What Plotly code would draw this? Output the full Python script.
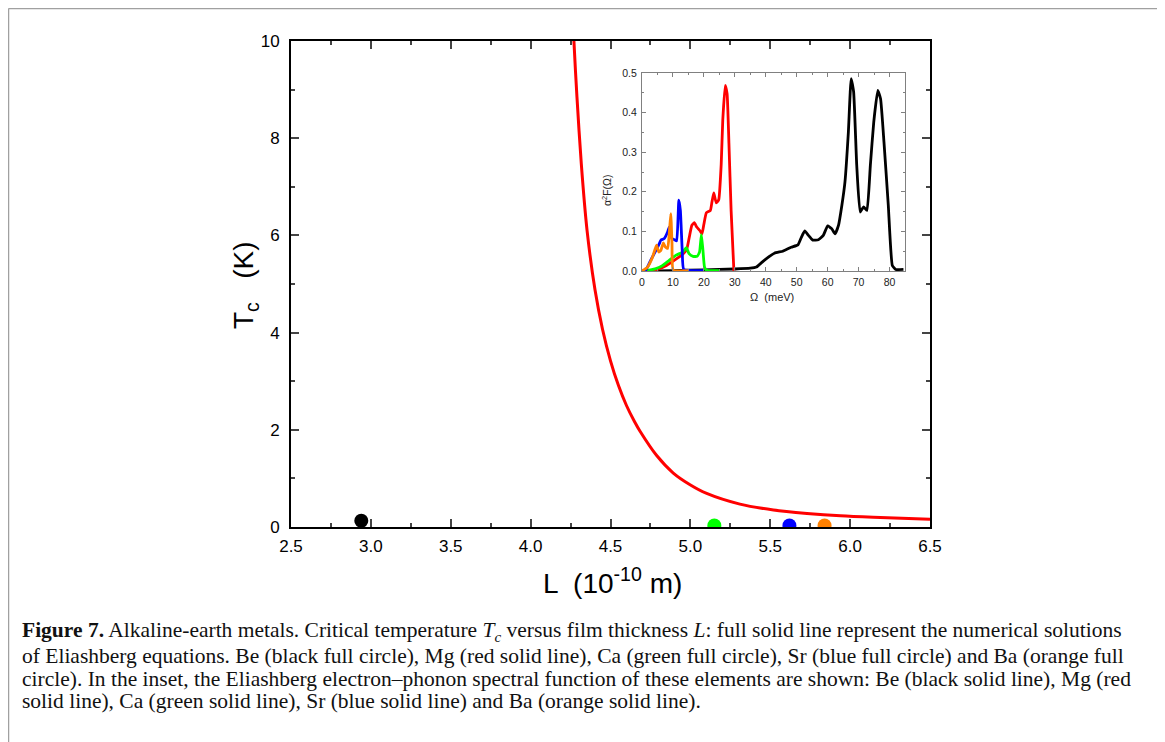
import plotly.graph_objects as go

# ---------------- data ----------------
# Main panel: Tc versus film thickness L (Mg, red solid line)
L_mg = [4.262, 4.271, 4.290, 4.317, 4.353, 4.403, 4.45, 4.50, 4.55, 4.60, 4.65, 4.685, 4.789, 4.893,
        4.998, 5.102, 5.31, 5.52, 5.73, 5.94, 6.145, 6.5]
Tc_mg = [10.8, 10.0, 8.85, 7.48, 6.11, 4.88, 4.07, 3.42, 2.91, 2.50, 2.17, 1.97, 1.47, 1.11,
         0.87, 0.69, 0.47, 0.35, 0.28, 0.23, 0.20, 0.16]

# Full circles
pt_names = ["Be", "Ca", "Sr", "Ba"]
pt_L = [2.94, 5.15, 5.62, 5.84]
pt_Tc = [0.13, 0.03, 0.03, 0.03]
pt_colors = ["#000000", "#00ff00", "#0000ff", "#ff8000"]

# Inset: Eliashberg spectral functions alpha^2F(Omega)
om_be = [5, 10, 20, 30, 35, 37, 39.5, 42.8, 45.5, 48.2, 50.4, 51.5, 52.6, 53.8, 55.2, 57,
         58.6, 60.0, 61.3, 62.4, 63.5, 64.6, 65.6, 66.7, 67.6, 68.4, 69.4, 70.5, 71.6,
         72.7, 73.8, 74.9, 76.2, 77.1, 78.2, 79.6, 80.9, 82, 84.5]
a2f_be = [0, 0.001, 0.003, 0.005, 0.007, 0.010, 0.027, 0.045, 0.050, 0.060, 0.066, 0.085,
          0.101, 0.090, 0.078, 0.079, 0.090, 0.114, 0.107, 0.094, 0.115, 0.166, 0.225,
          0.351, 0.486, 0.452, 0.267, 0.149, 0.162, 0.153, 0.267, 0.376, 0.456, 0.435,
          0.326, 0.166, 0.014, 0.004, 0.004]

om_mg = [3, 5, 7.9, 11.2, 13.4, 14.5, 15.3, 16.1, 16.9, 17.7, 18.8, 19.4, 20.0, 20.8,
         22.1, 22.6, 23.2, 24.0, 24.8, 25.6, 26.1, 26.9, 27.5, 28.1, 28.8, 29.7]
a2f_mg = [0, 0.004, 0.014, 0.031, 0.044, 0.056, 0.086, 0.115, 0.122, 0.111, 0.101, 0.094,
          0.118, 0.147, 0.153, 0.174, 0.197, 0.172, 0.18, 0.27, 0.38, 0.469, 0.448, 0.322,
          0.153, 0.0]

om_ca = [1, 2.3, 4.5, 6.7, 8.8, 11.0, 13.2, 14.3, 15.2, 16.5, 17.8, 18.6, 19.2, 19.7,
         20.2, 20.8, 25]
a2f_ca = [0, 0.002, 0.006, 0.014, 0.027, 0.040, 0.048, 0.059, 0.044, 0.037, 0.037, 0.048,
          0.092, 0.052, 0.010, 0.002, 0.001]

om_sr = [0, 1.2, 2.8, 4.5, 5.6, 6.1, 7.2, 8.3, 8.8, 9.7, 10.5, 11.2, 11.9, 12.4, 13.0,
         13.5, 20]
a2f_sr = [0, 0.002, 0.027, 0.052, 0.069, 0.078, 0.082, 0.099, 0.111, 0.082, 0.079, 0.076,
          0.179, 0.153, 0.052, 0.004, 0.001]

om_ba = [0, 1.8, 3.4, 4.7, 5.4, 6.1, 6.9, 7.5, 8.3, 8.8, 9.3, 9.7, 10.1, 15]
a2f_ba = [0, 0.01, 0.035, 0.065, 0.048, 0.052, 0.071, 0.061, 0.057, 0.094, 0.145, 0.069,
          0.002, 0.001]

caption_lines = [
    "<b>Figure 7.</b> Alkaline-earth metals. Critical temperature <i>T<sub>c</sub></i> versus film thickness <i>L</i>: full solid line represent the numerical solutions",
    "of Eliashberg equations. Be (black full circle), Mg (red solid line), Ca (green full circle), Sr (blue full circle) and Ba (orange full",
    "circle). In the inset, the Eliashberg electron\u2013phonon spectral function of these elements are shown: Be (black solid line), Mg (red",
    "solid line), Ca (green solid line), Sr (blue solid line) and Ba (orange solid line).",
]

# ---------------- figure ----------------
# the page puts the figure 8 px from the top-left corner; positions below are screen pixels
OFF = 8
W, H = 1157, 734
def px(x):
    return max(x - OFF, 0.5) / W
def py(y):
    return 1 - max(y - OFF, 0.5) / H

fig = go.Figure()

fig.add_trace(go.Scatter(x=L_mg, y=Tc_mg, mode="lines", line=dict(color="#ff0000", width=3, shape="spline", smoothing=0.8),
                         xaxis="x", yaxis="y", showlegend=False, name="Mg"))
for n, xv, yv, c in zip(pt_names, pt_L, pt_Tc, pt_colors):
    fig.add_trace(go.Scatter(x=[xv], y=[yv], mode="markers", marker=dict(color=c, size=14, line=dict(width=0)),
                             xaxis="x", yaxis="y", showlegend=False, name=n, cliponaxis=True))

inset = [(om_be, a2f_be, "#000000", "Be"), (om_mg, a2f_mg, "#ff0000", "Mg"),
         (om_ca, a2f_ca, "#00ff00", "Ca"), (om_sr, a2f_sr, "#0000ff", "Sr"),
         (om_ba, a2f_ba, "#ff8000", "Ba")]
for xs, ys, c, n in inset:
    fig.add_trace(go.Scatter(x=xs, y=ys, mode="lines", line=dict(color=c, width=2.8, shape="spline", smoothing=0.4),
                             xaxis="x2", yaxis="y2", showlegend=False, name=n))

font_sans = "Liberation Sans, Arial, sans-serif"

fig.update_layout(
    template="none",
    width=W, height=H,
    margin=dict(l=0, r=0, t=0, b=0, pad=0, autoexpand=False),
    paper_bgcolor="white", plot_bgcolor="rgba(0,0,0,0)",
    font=dict(family=font_sans, color="black"),
    xaxis=dict(domain=[px(291), px(930)], range=[2.5, 6.5], anchor="y", automargin=False,
               tick0=2.5, dtick=0.5, tickformat=".1f", ticks="inside", ticklen=8, tickwidth=1.5,
               showline=True, linecolor="black", linewidth=2, mirror="ticks",
               showgrid=False, zeroline=False, tickfont=dict(size=17), ticklabelstandoff=3,
               minor=dict(ticks="inside", ticklen=4, tickwidth=1.5, dtick=0.25, tick0=2.5, showgrid=False)),
    yaxis=dict(domain=[py(527), py(41)], range=[0, 10], anchor="x", automargin=False,
               tick0=0, dtick=2, ticks="inside", ticklen=8, tickwidth=1.5,
               showline=True, linecolor="black", linewidth=2, mirror="ticks",
               showgrid=False, zeroline=False, tickfont=dict(size=17), ticklabelstandoff=6,
               minor=dict(ticks="inside", ticklen=4, tickwidth=1.5, dtick=1, tick0=0, showgrid=False)),
    xaxis2=dict(domain=[px(642), px(905)], range=[0, 85], anchor="y2", automargin=False,
                tick0=0, dtick=10, ticks="inside", ticklen=4, tickwidth=1,
                showline=True, linecolor="#808080", linewidth=1, mirror="ticks", tickcolor="#808080",
                showgrid=False, zeroline=False, tickfont=dict(size=10.5, color="#222"), ticklabelstandoff=1,
                minor=dict(ticks="inside", ticklen=2, tickwidth=1, dtick=5, tick0=0, tickcolor="#808080", showgrid=False)),
    yaxis2=dict(domain=[py(271), py(73)], range=[0, 0.5], anchor="x2", automargin=False,
                tick0=0, dtick=0.1, tickformat=".1f", ticks="inside", ticklen=4, tickwidth=1,
                showline=True, linecolor="#808080", linewidth=1, mirror="ticks", tickcolor="#808080",
                showgrid=False, zeroline=False, tickfont=dict(size=10.5, color="#222"), ticklabelstandoff=2,
                minor=dict(ticks="inside", ticklen=2, tickwidth=1, dtick=0.05, tick0=0, tickcolor="#808080", showgrid=False)),
)

annotations = [
    dict(text="T<sub>c</sub>   (K)", x=px(245), y=py(285), xref="paper", yref="paper",
         textangle=-90, showarrow=False, font=dict(size=28, family=font_sans), xanchor="center", yanchor="middle"),
    dict(text="L  (10<sup>-10</sup> m)", x=px(612), y=py(581), xref="paper", yref="paper",
         showarrow=False, font=dict(size=28, family=font_sans), xanchor="center", yanchor="middle"),
    dict(text="\u03b1<sup>2</sup>F(\u03a9)", x=px(607), y=py(191), xref="paper", yref="paper",
         textangle=-90, showarrow=False, font=dict(size=10.5, family=font_sans, color="#222"), xanchor="center", yanchor="middle"),
    dict(text="\u03a9  (meV)", x=px(772), y=py(297), xref="paper", yref="paper",
         showarrow=False, font=dict(size=11, family=font_sans, color="#222"), xanchor="center", yanchor="middle"),
]
cap_y = [631, 656, 679, 701]
for t, yy in zip(caption_lines, cap_y):
    annotations.append(dict(text=t, x=px(20), y=py(yy), xref="paper", yref="paper", showarrow=False,
                            xanchor="left", yanchor="middle", align="left",
                            font=dict(size=21.5, family="Liberation Serif, Times New Roman, serif", color="#111")))
fig.update_layout(annotations=annotations)

fig.update_layout(shapes=[
    dict(type="line", xref="paper", yref="paper", x0=px(3), x1=px(1162), y0=py(4), y1=py(4), line=dict(color="#a0a0a0", width=1.5)),
    dict(type="line", xref="paper", yref="paper", x0=px(3), x1=px(3), y0=py(4), y1=0, line=dict(color="#a0a0a0", width=1.5)),
    dict(type="line", xref="paper", yref="paper", x0=px(1162), x1=px(1162), y0=py(4), y1=0, line=dict(color="#a0a0a0", width=1.5)),
])

fig.write_html("out.html")
